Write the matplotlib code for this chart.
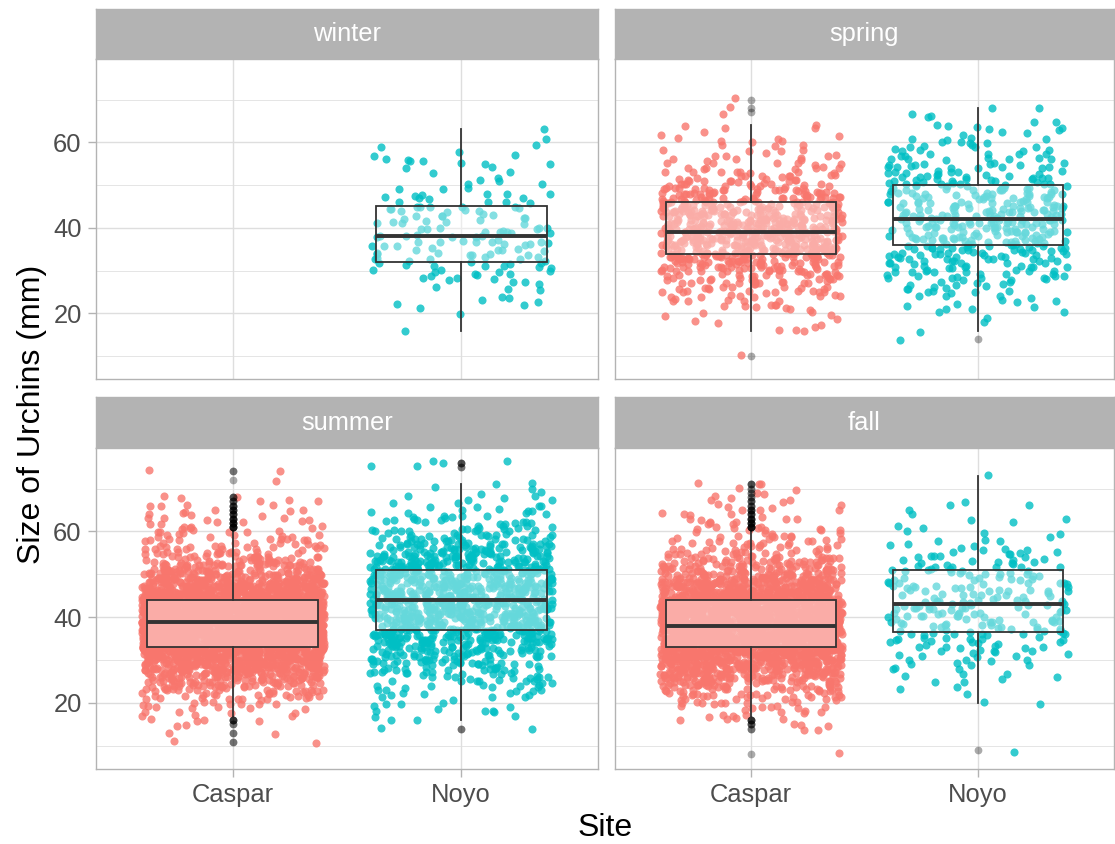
import matplotlib
matplotlib.use("Agg")
import matplotlib.pyplot as plt
from matplotlib.ticker import FixedLocator
import numpy as np

plt.rcParams.update(
    {
        "font.family": ["Liberation Sans", "DejaVu Sans"],
        "axes.linewidth": 1.0,
    }
)

SITES = ["Caspar", "Noyo"]
SEASONS = ["winter", "spring", "summer", "fall"]
SITE_COLORS = {"Caspar": "#F8766D", "Noyo": "#00BFC4"}

# Number of urchins in each 1 mm size class, first class = *_START mm
WINTER_NOYO_START = 16
WINTER_NOYO_COUNTS = [
    1, 0, 0, 0, 1, 1, 2, 2, 2, 1,
    2, 3, 4, 4, 5, 6, 6, 6, 7, 6,
    7, 7, 7, 6, 6, 5, 5, 5, 6, 6,
    4, 5, 4, 3, 2, 2, 1, 2, 2, 3,
    4, 2, 1, 2, 0, 1, 0, 1,
]

SPRING_CASPAR_START = 10
SPRING_CASPAR_COUNTS = [
    1, 0, 0, 0, 0, 0, 3, 2, 2, 2,
    3, 4, 5, 6, 8, 10, 10, 12, 13, 15,
    18, 22, 25, 30, 32, 34, 35, 35, 35, 34,
    33, 32, 31, 30, 28, 27, 25, 23, 20, 17,
    14, 11, 9, 8, 7, 6, 5, 5, 4, 3,
    3, 3, 2, 2, 2, 0, 0, 1, 1, 0,
    1,
]

SPRING_NOYO_START = 14
SPRING_NOYO_COUNTS = [
    1, 0, 1, 0, 1, 1, 2, 2, 3, 3,
    4, 5, 5, 6, 7, 8, 9, 10, 11, 12,
    13, 14, 15, 15, 16, 16, 16, 16, 16, 16,
    15, 15, 14, 14, 13, 13, 12, 11, 10, 9,
    8, 7, 7, 6, 5, 5, 4, 4, 3, 3,
    3, 2, 2, 1, 2,
]

SUMMER_CASPAR_START = 11
SUMMER_CASPAR_COUNTS = [
    2, 0, 2, 0, 2, 4, 3, 4, 6, 8,
    11, 15, 19, 25, 31, 38, 46, 55, 65, 75,
    85, 96, 106, 114, 122, 128, 132, 135, 137, 137,
    135, 132, 126, 118, 106, 92, 78, 64, 52, 42,
    34, 28, 23, 19, 16, 13, 11, 9, 8, 7,
    6, 5, 5, 4, 4, 4, 3, 3, 0, 0,
    0, 1, 0, 2,
]

SUMMER_NOYO_START = 14
SUMMER_NOYO_COUNTS = [
    2, 0, 2, 2, 4, 3, 3, 4, 5, 6,
    7, 9, 10, 13, 14, 16, 18, 20, 22, 24,
    26, 32, 34, 36, 37, 38, 39, 40, 40, 40,
    40, 39, 38, 37, 36, 35, 35, 35, 33, 31,
    29, 27, 23, 20, 17, 13, 11, 9, 8, 7,
    6, 5, 4, 4, 3, 2, 2, 2, 0, 0,
    0, 2, 3,
]

FALL_CASPAR_START = 8
FALL_CASPAR_COUNTS = [
    1, 0, 0, 0, 0, 0, 2, 3, 4, 4,
    5, 7, 9, 12, 15, 19, 24, 30, 37, 44,
    52, 61, 70, 79, 87, 94, 100, 104, 107, 109,
    110, 110, 108, 104, 99, 93, 86, 78, 70, 61,
    52, 44, 37, 31, 26, 22, 18, 15, 12, 10,
    9, 8, 7, 6, 5, 5, 4, 4, 3, 3,
    2, 2, 2, 3,
]

FALL_NOYO_START = 9
FALL_NOYO_COUNTS = [
    1, 0, 0, 0, 0, 0, 0, 0, 0, 0, 0,
    2, 0, 1, 1, 1, 2, 3, 2, 3, 4,
    4, 5, 6, 6, 7, 8, 9, 9, 9, 10,
    10, 10, 10, 10, 10, 9, 9, 9, 8, 8,
    8, 8, 8, 7, 6, 5, 4, 3, 3, 2,
    2, 2, 1, 2, 1, 1, 2, 1, 0, 0,
    0, 0, 0, 1,
]

# Box summaries: q1, median, q3, lower whisker end, upper whisker end (mm)
WINTER_NOYO_BOX = [32, 38, 45, 16, 63]
SPRING_CASPAR_BOX = [34, 39, 46, 16, 64]
SPRING_NOYO_BOX = [36, 42, 50, 16, 68]
SUMMER_CASPAR_BOX = [33, 39, 44, 17, 60]
SUMMER_NOYO_BOX = [37, 44, 51, 16, 71]
FALL_CASPAR_BOX = [33, 38, 44, 17, 60]
FALL_NOYO_BOX = [36.5, 43, 51, 20, 73]

GROUPS = {
    ("winter", "Noyo"): (WINTER_NOYO_START, WINTER_NOYO_COUNTS, WINTER_NOYO_BOX),
    ("spring", "Caspar"): (SPRING_CASPAR_START, SPRING_CASPAR_COUNTS, SPRING_CASPAR_BOX),
    ("spring", "Noyo"): (SPRING_NOYO_START, SPRING_NOYO_COUNTS, SPRING_NOYO_BOX),
    ("summer", "Caspar"): (SUMMER_CASPAR_START, SUMMER_CASPAR_COUNTS, SUMMER_CASPAR_BOX),
    ("summer", "Noyo"): (SUMMER_NOYO_START, SUMMER_NOYO_COUNTS, SUMMER_NOYO_BOX),
    ("fall", "Caspar"): (FALL_CASPAR_START, FALL_CASPAR_COUNTS, FALL_CASPAR_BOX),
    ("fall", "Noyo"): (FALL_NOYO_START, FALL_NOYO_COUNTS, FALL_NOYO_BOX),
}

W, H = 1115, 844
GRID = "#DEDEDE"
FRAME = "#B3B3B3"
INK = "#333333"


def hash01(k, salt):
    # integer hash of the point index -> [0, 1)
    x = (k.astype(np.uint64) * np.uint64(0x9E3779B1) + np.uint64(salt)) & np.uint64(0xFFFFFFFF)
    x ^= x >> np.uint64(16)
    x = (x * np.uint64(0x85EBCA6B)) & np.uint64(0xFFFFFFFF)
    x ^= x >> np.uint64(13)
    x = (x * np.uint64(0xC2B2AE35)) & np.uint64(0xFFFFFFFF)
    x ^= x >> np.uint64(16)
    return x.astype(float) / 2.0**32


def jitter(n, salt, width=0.4, height=0.4):
    # horizontal/vertical displacement like geom_jitter's defaults
    k = np.arange(n)
    u = hash01(k, salt)
    v = hash01(k, salt + 7919)
    return (u - 0.5) * 2 * width, (v - 0.5) * 2 * height


def px_axes(fig, x0, y0, x1, y1):
    return fig.add_axes([x0 / W, 1 - y1 / H, (x1 - x0) / W, (y1 - y0) / H])


def main():
    fig = plt.figure(figsize=(W / 100, H / 100), dpi=100)

    cols = [(96, 598), (615, 1114)]
    rows = [((9.3, 59.3), (59.3, 379.3)), ((397.3, 448.3), (448.3, 769))]

    for idx, season in enumerate(SEASONS):
        r, c = divmod(idx, 2)
        x0, x1 = cols[c]
        (s0, s1), (p0, p1) = rows[r]

        # facet strip
        sax = px_axes(fig, x0, s0, x1, s1)
        sax.set_facecolor(FRAME)
        sax.set_xticks([])
        sax.set_yticks([])
        for sp in sax.spines.values():
            sp.set_color(FRAME)
        sax.text(0.5, 0.5, season, color="white", fontsize=18.4,
                 ha="center", va="center", transform=sax.transAxes)

        ax = px_axes(fig, x0, p0, x1, p1)
        ax.yaxis.set_major_locator(FixedLocator([20, 40, 60]))
        ax.yaxis.set_minor_locator(FixedLocator([10, 30, 50, 70]))
        ax.grid(True, which="major", color=GRID, linewidth=1.0, zorder=0)
        ax.grid(True, which="minor", axis="y", color=GRID, linewidth=0.55, zorder=0)
        ax.set_axisbelow(True)
        for sp in ax.spines.values():
            sp.set_color(FRAME)
            sp.set_linewidth(1.0)
        ax.tick_params(which="major", length=5.8, width=1.0, color=FRAME,
                       labelsize=18.4, labelcolor="#4D4D4D", pad=4.5)
        ax.tick_params(which="minor", length=0)
        if r == 0:
            ax.tick_params(axis="x", bottom=False, labelbottom=False)
        if c == 1:
            ax.tick_params(axis="y", left=False, labelleft=False)

        for pos, site in enumerate(SITES, start=1):
            if (season, site) not in GROUPS:
                continue
            start, counts, box = GROUPS[(season, site)]
            sizes = np.repeat(start + np.arange(len(counts)), counts)
            dx, dy = jitter(len(sizes), salt=101 * idx + pos)
            ax.scatter(pos + dx, sizes + dy, s=34, color=SITE_COLORS[site],
                       alpha=0.8, linewidths=0, zorder=2)

            q1, med, q3, lo, hi = box
            fliers = sizes[(sizes < lo) | (sizes > hi)]
            stats = [dict(q1=q1, med=med, q3=q3, whislo=lo, whishi=hi,
                          fliers=fliers)]
            ax.bxp(
                stats,
                positions=[pos],
                widths=0.75,
                patch_artist=True,
                showcaps=False,
                boxprops=dict(facecolor=(1, 1, 1, 0.4), edgecolor=INK,
                              linewidth=1.3),
                medianprops=dict(color=INK, linewidth=2.8),
                whiskerprops=dict(color=INK, linewidth=1.3),
                flierprops=dict(marker="o", markersize=5.6,
                                markerfacecolor=(0, 0, 0, 0.33),
                                markeredgecolor="none"),
                zorder=3,
            )

        ax.set_xlim(0.4, 2.6)
        ax.set_ylim(4.6, 79.4)
        ax.set_xticks([1, 2])
        ax.set_xticklabels(SITES)

    fig.text(605 / W, 1 - 828 / H, "Site", fontsize=23, ha="center", va="center")
    fig.text(32 / W, 1 - 414 / H, "Size of Urchins (mm)", fontsize=23,
             rotation=90, ha="center", va="center")

    fig.savefig("out.png", dpi=100)


if __name__ == "__main__":
    main()
